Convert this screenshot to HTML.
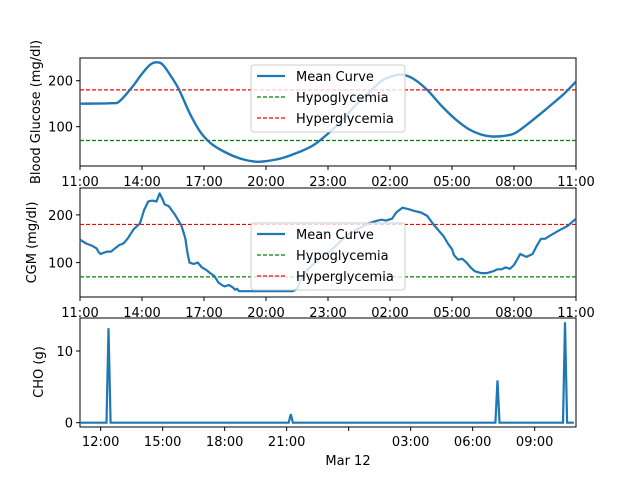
<!DOCTYPE html>
<html><head><meta charset="utf-8"><style>
body{margin:0;background:#fff}
svg text{font-family:"DejaVu Sans","Liberation Sans",sans-serif;font-size:13px;fill:#000}
</style></head><body>
<svg id="c" width="640" height="480" xmlns="http://www.w3.org/2000/svg"></svg>
<script>
const meanHours=[0,1.5,1.9,2.5,3,3.4,3.7,4.0,4.4,4.8,5.3,5.8,6.3,7,7.8,8.5,9,9.8,10.6,11.3,12,12.7,13.3,14,14.6,15.2,15.6,16.1,16.8,17.5,18.2,18.8,19.4,19.9,20.5,21,21.5,22.2,23,23.5,24];
const meanValues=[150,151,155,185,215,235,240,235,210,180,130,90,65,45,30,24,25,32,45,60,85,115,145,175,200,211,213,205,180,145,115,95,83,79,80,85,100,125,155,175,198];
const cgmHours=[0,0.3,0.6,0.8,0.9,1,1.1,1.3,1.5,1.7,1.9,2.1,2.3,2.6,2.9,3.1,3.3,3.5,3.7,3.85,4.0,4.1,4.3,4.6,4.9,5.0,5.1,5.2,5.3,5.5,5.7,5.9,6.1,6.3,6.5,6.6,6.7,6.9,7.0,7.2,7.4,7.5,7.6,7.7,10.3,10.5,10.7,11.0,11.5,12,12.5,13,13.5,14,14.4,14.6,14.8,15.1,15.3,15.6,15.9,16.2,16.5,16.8,17.1,17.4,17.6,17.8,18,18.1,18.3,18.5,18.7,18.9,19.1,19.4,19.7,20,20.2,20.4,20.6,20.8,21,21.2,21.3,21.6,21.9,22.1,22.3,22.5,22.8,23.2,23.6,24];
const cgmValues=[148,140,135,130,122,118,120,123,123,130,137,140,150,170,182,210,228,230,228,245,232,222,218,200,178,165,150,120,100,97,100,90,85,78,72,65,58,52,50,53,48,43,45,40,40,45,65,85,105,120,140,160,172,183,188,190,188,192,205,215,212,208,205,198,180,165,155,140,128,115,106,108,100,90,82,78,78,82,86,86,90,87,95,110,118,112,118,135,150,150,158,168,177,192];
const choHours=[1.38,10.2,20.2,23.47];
const choValues=[13.2,1.2,5.9,14.0];
const topTicks=["11:00","14:00","17:00","20:00","23:00","02:00","05:00","08:00","11:00"];
const botTickHours=[1,4,7,10,13,16,19,22];
const botTicks=["12:00","15:00","18:00","21:00","","03:00","06:00","09:00"];
const hypo=70, hyper=180;

const svg=document.getElementById('c');const NS='http://www.w3.org/2000/svg';
function el(t,a,txt){const e=document.createElementNS(NS,t);for(const k in a)e.setAttribute(k,a[k]);if(txt!==undefined)e.textContent=txt;svg.appendChild(e);return e;}
const X=h=>80+h*496/24;
function smoothPath(P){let d='M'+P[0][0].toFixed(1)+','+P[0][1].toFixed(1);
  for(let i=0;i<P.length-1;i++){const p0=P[Math.max(0,i-1)],p1=P[i],p2=P[i+1],p3=P[Math.min(P.length-1,i+2)];
    const c1=[p1[0]+(p2[0]-p0[0])/6,p1[1]+(p2[1]-p0[1])/6],c2=[p2[0]-(p3[0]-p1[0])/6,p2[1]-(p3[1]-p1[1])/6];
    d+=` C${c1[0].toFixed(1)},${c1[1].toFixed(1)} ${c2[0].toFixed(1)},${c2[1].toFixed(1)} ${p2[0].toFixed(1)},${p2[1].toFixed(1)}`;}
  return d;}
function panel(top,bot,y0,ppu,vals,hours,yticks,ylabel,name,legendY,tickLabels,labelX,smooth){
  const Y=v=>y0-v*ppu;
  let r=el('rect',{x:80,y:top,width:496,height:bot-top,fill:'none',stroke:'#000','stroke-width':1});
  
  let l=el('line',{x1:80,x2:576,y1:Y(hypo),y2:Y(hypo),stroke:'green','stroke-dasharray':'4,2','stroke-width':1.2});
  
  l=el('line',{x1:80,x2:576,y1:Y(hyper),y2:Y(hyper),stroke:'red','stroke-dasharray':'4,2','stroke-width':1.2});
  
  const P=hours.map((h,i)=>[X(h),Y(vals[i])]);
  let p;
  if(smooth) p=el('path',{d:smoothPath(P),fill:'none',stroke:'#1f77b4','stroke-width':2.4,'stroke-linejoin':'round'});
  else p=el('polyline',{points:P.map(q=>q[0].toFixed(1)+','+q[1].toFixed(1)).join(' '),fill:'none',stroke:'#1f77b4','stroke-width':2.2,'stroke-linejoin':'round'});
  
  yticks.forEach(v=>{el('line',{x1:76,x2:80,y1:Y(v),y2:Y(v),stroke:'#000'});
    const t=el('text',{x:73,y:Y(v)+5,'text-anchor':'end'},v);});
  tickLabels.forEach((s,i)=>{const x=X(i*3);el('line',{x1:x,x2:x,y1:bot,y2:bot+4,stroke:'#000'});
    const t=el('text',{x:x,y:bot+20,'text-anchor':'middle'},s);});
  const yl=el('text',{x:0,y:0,'text-anchor':'middle',transform:`translate(${labelX},${(top+bot)/2}) rotate(-90)`},ylabel);
  
  const g=el('rect',{x:251,y:legendY,width:154,height:67,fill:'#fff','fill-opacity':0.8,stroke:'#ccc',rx:3});
  
  const items=[['Mean Curve','#1f77b4',false],['Hypoglycemia','green',true],['Hyperglycemia','red',true]];
  items.forEach((it,i)=>{const yy=legendY+11+i*21;
    el('line',{x1:257,x2:285,y1:yy,y2:yy,stroke:it[1],'stroke-width':it[2]?1.2:2.2,'stroke-dasharray':it[2]?'4,2':'none'});
    const t=el('text',{x:296,y:yy+5},it[0]);});
}
panel(58,166,172.7,0.46,meanValues,meanHours,[100,200],'Blood Glucose (mg/dl)','mean-panel',65,topTicks,40,true);
panel(188,297,310.3,0.477,cgmValues,cgmHours,[100,200],'CGM (mg/dl)','cgm-panel',223,topTicks,36,false);
// bottom
const bTop=318,bBot=427,Yc=v=>422.7-v*7.17;
let r=el('rect',{x:80,y:bTop,width:496,height:bBot-bTop,fill:'none',stroke:'#000'});

let pts=[[0,0]];choHours.forEach((h,i)=>{pts.push([h-0.1,0],[h,choValues[i]],[h+0.1,0]);});pts.push([23.9,0]);
let p=el('polyline',{points:pts.map(q=>X(q[0]).toFixed(1)+','+Yc(q[1]).toFixed(1)).join(' '),fill:'none',stroke:'#1f77b4','stroke-width':2.2});

[0,10].forEach(v=>{el('line',{x1:76,x2:80,y1:Yc(v),y2:Yc(v),stroke:'#000'});
  const t=el('text',{x:73,y:Yc(v)+5,'text-anchor':'end'},v);});
botTickHours.forEach((h,i)=>{const x=X(h);el('line',{x1:x,x2:x,y1:bBot,y2:bBot+4,stroke:'#000'});
  const t=el('text',{x:x,y:bBot+19,'text-anchor':'middle'},botTicks[i]);});
let t=el('text',{x:348,y:465,'text-anchor':'middle'},'Mar 12');
t=el('text',{x:0,y:0,'text-anchor':'middle',transform:'translate(43,372) rotate(-90)'},'CHO (g)');
</script>
</body></html>
